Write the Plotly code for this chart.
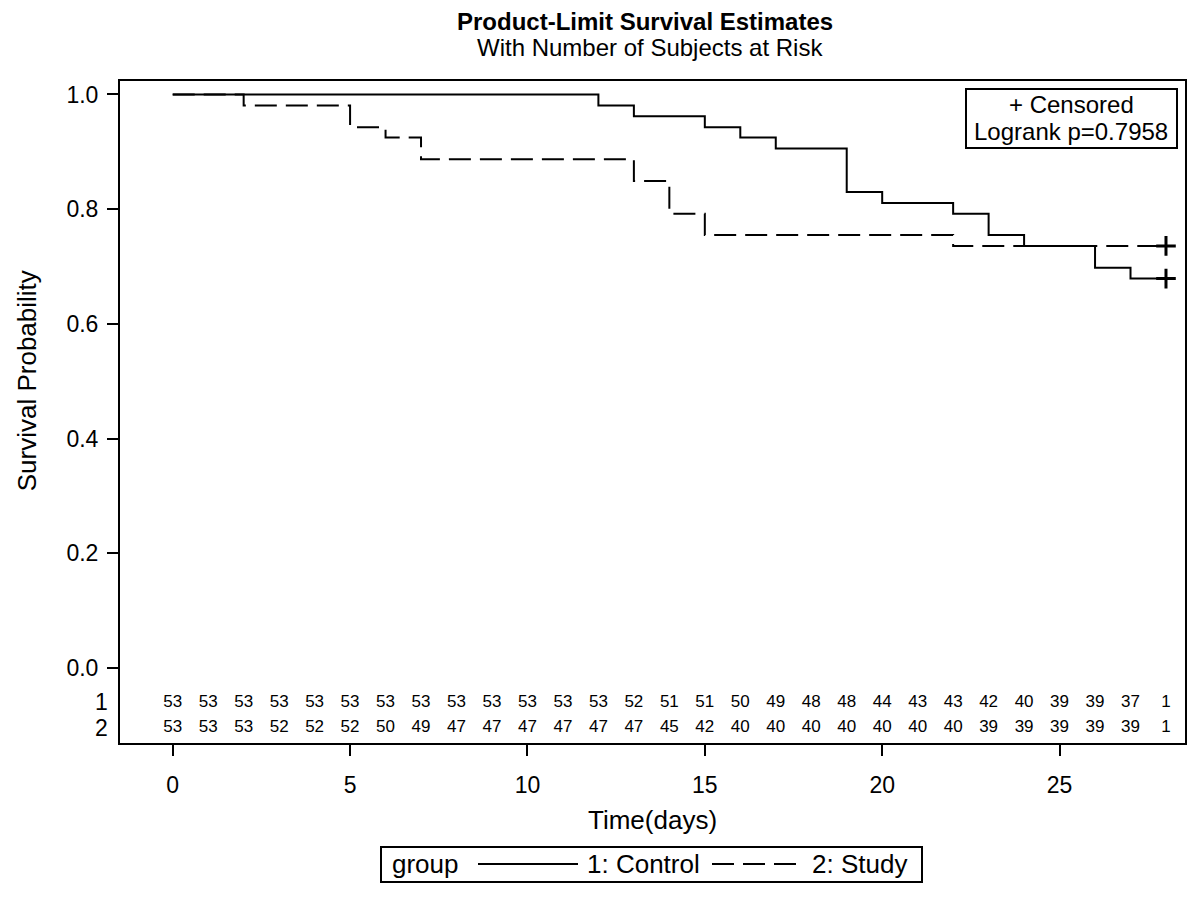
import plotly.graph_objects as go

# ---- data ----
control_times = [0, 12, 13, 15, 16, 17, 19, 20, 22, 23, 24, 26, 27, 28]
control_surv = [1.0, 0.981, 0.962, 0.943, 0.925, 0.906, 0.830, 0.811, 0.792, 0.755, 0.736, 0.698, 0.679, 0.679]
study_times = [0, 2, 5, 6, 7, 13, 14, 15, 22, 28]
study_surv = [1.0, 0.981, 0.943, 0.925, 0.887, 0.849, 0.792, 0.755, 0.736, 0.736]
censor_control_t = [28]
censor_control_s = [0.679]
censor_study_t = [28]
censor_study_s = [0.736]

risk_times = [0, 1, 2, 3, 4, 5, 6, 7, 8, 9, 10, 11, 12, 13, 14, 15, 16, 17, 18, 19, 20,
              21, 22, 23, 24, 25, 26, 27, 28]
risk_control = [53, 53, 53, 53, 53, 53, 53, 53, 53, 53, 53, 53, 53, 52, 51, 51, 50, 49, 48, 48,
                44, 43, 43, 42, 40, 39, 39, 37, 1]
risk_study = [53, 53, 53, 52, 52, 52, 50, 49, 47, 47, 47, 47, 47, 47, 45, 42, 40, 40, 40, 40,
              40, 40, 40, 39, 39, 39, 39, 39, 1]

x_ticks = [0, 5, 10, 15, 20, 25]
y_ticks = [0.0, 0.2, 0.4, 0.6, 0.8, 1.0]
y_ticktext = ["0.0", "0.2", "0.4", "0.6", "0.8", "1.0"]

FONT = "Arial, Liberation Sans, sans-serif"
ROW1_Y = -0.0597
ROW2_Y = -0.104

# plot area on screen: x 120..1185, y 81..743 (page body has an 8px offset)
PW, PH = 1065, 662


def px(xp):
    return (xp - 120) / PW


def py(yp):
    return (743 - yp) / PH


fig = go.Figure()

fig.add_trace(go.Scatter(x=control_times, y=control_surv, mode="lines", line_shape="hv",
                         line=dict(color="black", width=2), name="1: Control", showlegend=False))
fig.add_trace(go.Scatter(x=study_times, y=study_surv, mode="lines", line_shape="hv",
                         line=dict(color="black", width=2, dash="22px,9px"), name="2: Study",
                         showlegend=False))
fig.add_trace(go.Scatter(x=censor_control_t + censor_study_t, y=censor_control_s + censor_study_s,
                         mode="markers", showlegend=False,
                         marker=dict(symbol="cross-thin", size=14, line=dict(width=3, color="black"))))

fig.add_trace(go.Scatter(x=risk_times, y=[ROW1_Y] * len(risk_times), mode="text",
                         text=[str(v) for v in risk_control], showlegend=False,
                         textfont=dict(family=FONT, size=17, color="black")))
fig.add_trace(go.Scatter(x=risk_times, y=[ROW2_Y] * len(risk_times), mode="text",
                         text=[str(v) for v in risk_study], showlegend=False,
                         textfont=dict(family=FONT, size=17, color="black")))

fig.update_xaxes(range=[-1.486, 28.536], tickvals=x_ticks, ticks="outside", ticklen=11,
                 tickwidth=2, tickcolor="black", showline=True, linewidth=2, linecolor="black",
                 mirror=True, showgrid=False, zeroline=False, ticklabelstandoff=9,
                 tickfont=dict(family=FONT, size=23, color="black"))
fig.update_yaxes(range=[-0.1306, 1.0235], tickvals=y_ticks, ticktext=y_ticktext, ticks="outside",
                 ticklen=11, tickwidth=2, tickcolor="black", showline=True, linewidth=2,
                 linecolor="black", mirror=True, showgrid=False, zeroline=False,
                 ticklabelstandoff=4,
                 tickfont=dict(family=FONT, size=23, color="black"))

ann = []
# titles
ann.append(dict(text="<b>Product-Limit Survival Estimates</b>", x=px(645), y=py(21), xref="paper",
                yref="paper", showarrow=False, font=dict(family=FONT, size=24, color="black"),
                xanchor="center", yanchor="middle"))
ann.append(dict(text="With Number of Subjects at Risk", x=px(650), y=py(48), xref="paper",
                yref="paper", showarrow=False, font=dict(family=FONT, size=24, color="black"),
                xanchor="center", yanchor="middle"))
# axis titles
ann.append(dict(text="Survival Probability", x=px(27), y=0.5, xref="paper", yref="y",
                textangle=-90, showarrow=False, font=dict(family=FONT, size=26, color="black"),
                xanchor="center", yanchor="middle"))
ann.append(dict(text="Time(days)", x=0.5, y=py(820), xref="paper", yref="paper", showarrow=False,
                font=dict(family=FONT, size=26, color="black"), xanchor="center", yanchor="middle"))
# at-risk row labels
for lab, yy in (("1", ROW1_Y), ("2", ROW2_Y)):
    ann.append(dict(text=lab, x=px(110), y=yy, xref="paper", yref="y", showarrow=False,
                    font=dict(family=FONT, size=23, color="black"), xanchor="right",
                    yanchor="middle"))
# inset box texts
ann.append(dict(text="+ Censored", x=px(1071), y=py(104), xref="paper", yref="paper",
                showarrow=False, font=dict(family=FONT, size=24, color="black"),
                xanchor="center", yanchor="middle"))
ann.append(dict(text="Logrank p=0.7958", x=px(1071), y=py(132), xref="paper", yref="paper",
                showarrow=False, font=dict(family=FONT, size=24, color="black"),
                xanchor="center", yanchor="middle"))

# bottom legend
LEG_Y = py(864)
for txt, xl in (("group", 390), ("1: Control", 585), ("2: Study", 810)):
    ann.append(dict(text=txt, x=px(xl), y=LEG_Y, xref="paper", yref="paper",
                    showarrow=False, font=dict(family=FONT, size=26, color="black"),
                    xanchor="left", yanchor="middle"))
fig.update_layout(annotations=ann)

shapes = [
    dict(type="rect", xref="paper", yref="paper", x0=px(966), x1=px(1177), y0=py(148), y1=py(89),
         line=dict(color="black", width=2), fillcolor="white", layer="below"),
    dict(type="rect", xref="paper", yref="paper", x0=px(381), x1=px(922), y0=py(882), y1=py(847),
         line=dict(color="black", width=2)),
    dict(type="line", xref="paper", yref="paper", x0=px(478), x1=px(578), y0=LEG_Y, y1=LEG_Y,
         line=dict(color="black", width=2)),
    dict(type="line", xref="paper", yref="paper", x0=px(712), x1=px(800), y0=LEG_Y, y1=LEG_Y,
         line=dict(color="black", width=2, dash="22px,9px")),
]
fig.update_layout(shapes=shapes)

fig.update_layout(width=1200, height=898, margin=dict(l=112, r=23, t=73, b=163),
                  plot_bgcolor="white", paper_bgcolor="white", showlegend=False,
                  font=dict(family=FONT, color="black"))

fig.write_html("out.html")
